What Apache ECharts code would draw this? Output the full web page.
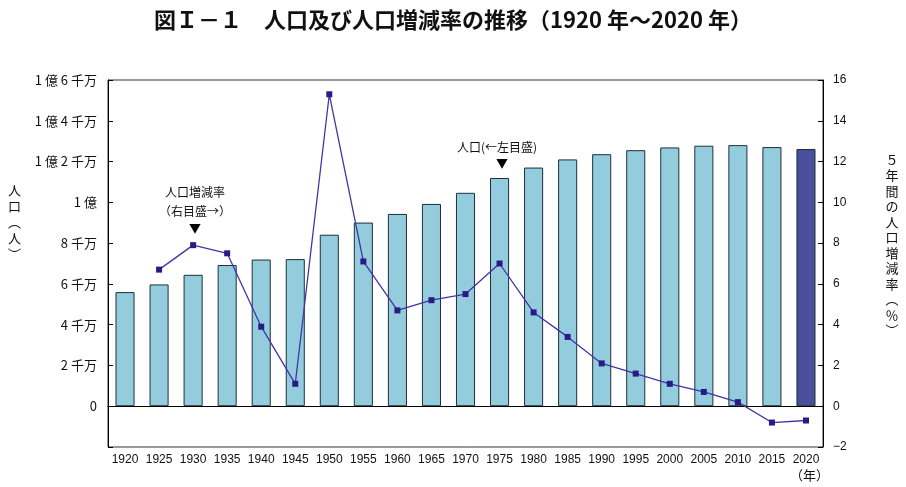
<!DOCTYPE html>
<html>
<head>
<meta charset="utf-8">
<script src="https://cdn.jsdelivr.net/npm/echarts@6/dist/echarts.min.js"></script>
<style>
html, body { margin: 0; padding: 0; background: #fff; }
#chart { width: 906px; height: 487px; }
</style>
</head>
<body>
<div id="chart"></div>
<script>
var years = ['1920', '1925', '1930', '1935', '1940', '1945', '1950', '1955', '1960', '1965', '1970',
	'1975', '1980', '1985', '1990', '1995', '2000', '2005', '2010', '2015', '2020'];
// 人口（人）
var population = [55963053, 59736822, 64450005, 69254148, 71933000, 72147030, 84114574, 90076594,
	94301623, 99209137, 104665171, 111939643, 117060396, 121048923, 123611167, 125570246,
	126925843, 127767994, 128057352, 127094745, 126146099];
// 5年間の人口増減率（％）
var growthRate = [null, 6.7, 7.9, 7.5, 3.9, 1.1, 15.3, 7.1, 4.7, 5.2, 5.5, 7.0, 4.6, 3.4, 2.1,
	1.6, 1.1, 0.7, 0.2, -0.8, -0.7];
var leftTicks = {
	0: '0', 20000000: '2 千万', 40000000: '4 千万', 60000000: '6 千万', 80000000: '8 千万',
	100000000: '1 億', 120000000: '1 億 2 千万', 140000000: '1 億 4 千万', 160000000: '1 億 6 千万'
};

var font = 'Liberation Sans, Noto Sans CJK JP, sans-serif';
var chart = echarts.init(document.getElementById('chart'));

var barData = population.map(function (v, i) {
	if (i === population.length - 1) {
		return { value: v, itemStyle: { color: '#4a4f9c' } };
	}
	return v;
});

var option = {
	animation: false,
	textStyle: { fontFamily: font },
	title: {
		text: '図Ｉ－１　人口及び人口増減率の推移（1920 年～2020 年）',
		left: 'center',
		top: 4,
		textStyle: { fontSize: 22, fontWeight: 'bold', color: '#111', fontFamily: 'Noto Sans CJK JP' }
	},
	grid: {
		left: 108, right: 83, top: 80, bottom: 40,
		show: true, borderColor: '#333', borderWidth: 1
	},
	xAxis: {
		type: 'category',
		data: years,
		axisLine: { lineStyle: { color: '#000' } },
		axisTick: { show: false },
		axisLabel: { color: '#111', fontSize: 12, margin: 7, interval: 0 }
	},
	yAxis: [{
		type: 'value',
		min: -20000000, max: 160000000, interval: 20000000,
		splitLine: { show: false },
		axisLine: { show: true, lineStyle: { color: '#000' } },
		axisTick: { show: true, inside: true, length: 5, lineStyle: { color: '#000' } },
		axisLabel: {
			color: '#111', fontSize: 13, margin: 11, fontFamily: 'Noto Sans CJK JP',
			formatter: function (v) { return leftTicks[v] !== undefined ? leftTicks[v] : ''; }
		}
	}, {
		type: 'value',
		min: -2, max: 16, interval: 2,
		splitLine: { show: false },
		axisLine: { show: true, lineStyle: { color: '#000' } },
		axisTick: { show: true, inside: true, length: 5, lineStyle: { color: '#000' } },
		axisLabel: {
			color: '#111', fontSize: 12, margin: 10,
			formatter: function (v) { return v < 0 ? '\u2212' + (-v) : String(v); }
		}
	}],
	series: [{
		name: '人口',
		type: 'bar',
		data: barData,
		barWidth: '56%',
		itemStyle: { color: '#93cddd', borderColor: '#1e2f3c', borderWidth: 1 },
		markLine: {
			silent: true,
			symbol: 'none',
			label: { show: false },
			lineStyle: { color: '#000', type: 'solid', width: 1 },
			data: [{ yAxis: 0 }]
		}
	}, {
		name: '人口増減率',
		type: 'line',
		yAxisIndex: 1,
		data: growthRate,
		symbol: 'rect',
		symbolSize: 6,
		itemStyle: { color: '#2a1a85' },
		lineStyle: { color: '#4632a6', width: 1.3 },
		z: 5
	}],
	graphic: [
		{ type: 'text', left: 8, top: 182, style: { text: '人\n口\n︵\n人\n︶', font: '13px Noto Sans CJK JP', fill: '#111', lineHeight: 16 } },
		{ type: 'text', x: 892, y: 152, style: { text: '５\n年\n間\nの\n人\n口\n増\n減\n率\n︵\n％\n︶', font: '13px Noto Sans CJK JP', fill: '#111', lineHeight: 15.5, align: 'center' } },
		{ type: 'text', left: 790, top: 469, style: { text: '（年）', font: '13px Noto Sans CJK JP', fill: '#111' } },
		{ type: 'text', x: 195, y: 186, style: { text: '人口増減率', font: '12px Noto Sans CJK JP', fill: '#111', align: 'center' } },
		{ type: 'text', x: 195, y: 205, style: { text: '（右目盛→）', font: '12px Noto Sans CJK JP', fill: '#111', align: 'center' } },
		{ type: 'text', x: 195, y: 222, style: { text: '▼', font: '12px Noto Sans CJK JP', fill: '#000', align: 'center' } },
		{ type: 'text', x: 497, y: 141, style: { text: '人口(←左目盛)', font: '12px Noto Sans CJK JP', fill: '#111', align: 'center' } },
		{ type: 'text', x: 502, y: 157, style: { text: '▼', font: '12px Noto Sans CJK JP', fill: '#000', align: 'center' } }
	]
};

chart.setOption(option);
</script>
</body>
</html>
